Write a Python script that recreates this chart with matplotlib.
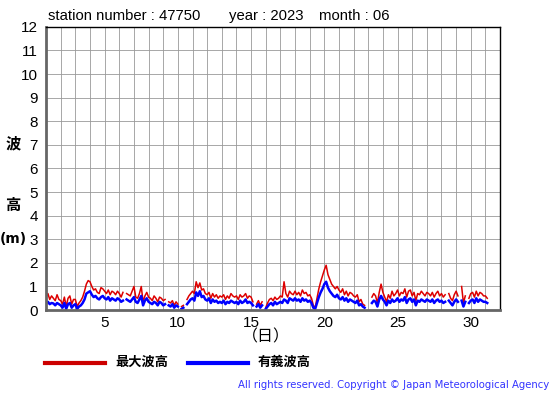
import numpy as np
import matplotlib
matplotlib.use('Agg')
import matplotlib.pyplot as plt

plt.rcParams['font.family'] = ['Liberation Sans', 'Noto Sans CJK JP', 'DejaVu Sans']

# Wave heights, 8 values per day (every 3 hours), starting day 1 00h
nan = np.nan
sig_wave = [
    0.30, 0.35, 0.25, 0.30, 0.28, 0.20, 0.30, 0.25,
    0.20, 0.10, 0.30, 0.05, 0.25, 0.30, 0.10, 0.20,
    0.25, 0.05, 0.15, 0.20, 0.30, 0.45, 0.70, 0.75,
    0.80, 0.65, 0.55, 0.60, 0.50, 0.45, 0.55, 0.60,
    0.50, 0.45, 0.55, 0.40, 0.50, 0.45, 0.40, 0.50,
    0.45, 0.35, 0.40, nan, 0.45, 0.40, 0.35, 0.45,
    0.55, 0.35, 0.30, 0.45, 0.60, 0.20, 0.40, 0.50,
    0.35, 0.30, 0.25, 0.35, 0.30, 0.20, 0.35, 0.30,
    0.20, 0.25, nan, 0.20, 0.15, 0.25, 0.10, 0.20,
    0.15, nan, 0.05, 0.10, nan, 0.25, 0.35, 0.45,
    0.50, 0.40, 0.75, 0.60, 0.80, 0.55, 0.60, 0.45,
    0.40, 0.50, 0.30, 0.45, 0.35, 0.40, 0.30, 0.35,
    0.30, 0.40, 0.25, 0.35, 0.30, 0.40, 0.35, 0.30,
    0.35, 0.25, 0.40, 0.30, 0.35, 0.45, 0.30, 0.35,
    0.30, 0.20, nan, 0.15, 0.25, 0.10, 0.20, nan,
    0.05, 0.15, 0.25, 0.30, 0.20, 0.35, 0.25, 0.30,
    0.35, 0.30, 0.45, 0.40, 0.30, 0.50, 0.45, 0.40,
    0.50, 0.40, 0.45, 0.35, 0.50, 0.40, 0.45, 0.35,
    0.40, 0.30, 0.10, 0.05, 0.30, 0.55, 0.75, 0.90,
    1.10, 1.20, 0.95, 0.80, 0.70, 0.60, 0.55, 0.65,
    0.50, 0.45, 0.55, 0.40, 0.50, 0.35, 0.45, 0.40,
    0.35, 0.30, 0.40, 0.20, 0.25, 0.15, 0.10, nan,
    0.20, nan, 0.30, 0.40, 0.35, 0.15, 0.45, 0.60,
    0.45, 0.35, 0.20, 0.40, 0.30, 0.45, 0.35, 0.40,
    0.50, 0.35, 0.45, 0.40, 0.55, 0.30, 0.45, 0.50,
    0.35, 0.45, 0.20, 0.40, 0.35, 0.45, 0.40, 0.35,
    0.45, 0.40, 0.35, 0.45, 0.30, 0.40, 0.45, 0.35,
    0.40, 0.30, 0.35, nan, 0.40, 0.30, 0.20, 0.35,
    0.45, 0.35, nan, 0.40, 0.15, 0.35, nan, 0.30,
    0.40, 0.45, 0.30, 0.50, 0.35, 0.45, 0.40, 0.35,
    0.35, 0.30,
]
max_wave = [
    0.55, 0.70, 0.45, 0.60, 0.50, 0.40, 0.65, 0.45,
    0.40, 0.25, 0.55, 0.15, 0.50, 0.60, 0.25, 0.45,
    0.45, 0.15, 0.30, 0.40, 0.55, 0.80, 1.10, 1.25,
    1.20, 1.00, 0.85, 0.90, 0.75, 0.70, 0.95, 0.90,
    0.80, 0.70, 0.85, 0.65, 0.80, 0.75, 0.65, 0.80,
    0.70, 0.55, 0.75, nan, 0.70, 0.65, 0.60, 0.80,
    1.00, 0.55, 0.50, 0.70, 1.00, 0.35, 0.60, 0.75,
    0.55, 0.50, 0.40, 0.60, 0.50, 0.35, 0.55, 0.50,
    0.40, 0.45, nan, 0.35, 0.30, 0.40, 0.20, 0.35,
    0.25, nan, 0.15, 0.20, nan, 0.45, 0.60, 0.70,
    0.80, 0.70, 1.20, 0.95, 1.15, 0.85, 0.90, 0.70,
    0.65, 0.75, 0.50, 0.70, 0.55, 0.65, 0.50, 0.60,
    0.55, 0.65, 0.45, 0.60, 0.50, 0.70, 0.60, 0.55,
    0.60, 0.45, 0.65, 0.55, 0.60, 0.70, 0.50, 0.60,
    0.55, 0.35, nan, 0.25, 0.40, 0.20, 0.35, nan,
    0.10, 0.30, 0.45, 0.50, 0.40, 0.55, 0.45, 0.50,
    0.60, 0.55, 1.20, 0.70, 0.55, 0.80, 0.70, 0.65,
    0.80, 0.65, 0.75, 0.60, 0.85, 0.70, 0.75, 0.60,
    0.65, 0.50, 0.20, 0.10, 0.50, 0.90, 1.20, 1.45,
    1.70, 1.90, 1.50, 1.30, 1.10, 1.00, 0.90, 1.00,
    0.85, 0.75, 0.90, 0.65, 0.80, 0.60, 0.75, 0.70,
    0.60, 0.55, 0.65, 0.35, 0.45, 0.25, 0.20, nan,
    0.40, nan, 0.55, 0.70, 0.60, 0.30, 0.75, 1.10,
    0.75, 0.55, 0.35, 0.65, 0.50, 0.80, 0.60, 0.70,
    0.85, 0.60, 0.75, 0.70, 0.90, 0.55, 0.80, 0.85,
    0.60, 0.75, 0.40, 0.70, 0.65, 0.80, 0.70, 0.60,
    0.75, 0.70, 0.60, 0.75, 0.55, 0.70, 0.80, 0.60,
    0.70, 0.55, 0.65, nan, 0.70, 0.50, 0.40, 0.65,
    0.80, 0.60, nan, 1.00, 0.30, 0.60, nan, 0.50,
    0.70, 0.75, 0.55, 0.80, 0.60, 0.75, 0.70, 0.60,
    0.60, 0.50,
]
days = 1 + np.arange(len(sig_wave)) / 8.0

x_ticks = [5, 10, 15, 20, 25, 30]
y_ticks = list(range(0, 13))

fig = plt.figure(figsize=(5.55, 3.95), dpi=100)
ax = fig.add_axes([0.083, 0.215, 0.818, 0.717])

ax.plot(days, max_wave, color='#dd0000', lw=1.1)
ax.plot(days, sig_wave, color='#0000ff', lw=1.8)

ax.set_xlim(1, 32)
ax.set_ylim(0, 12)
ax.set_xticks(np.arange(1, 33), minor=True)
ax.set_xticks(x_ticks)
ax.set_yticks(y_ticks)
ax.grid(True, which='both', color='#999999', lw=0.6)
ax.set_axisbelow(True)
ax.tick_params(which='both', length=0, labelsize=11)
ax.tick_params(axis='x', pad=4)
ax.tick_params(axis='y', pad=6)

for side in ['top', 'right']:
    ax.spines[side].set_color('black')
    ax.spines[side].set_linewidth(1.0)
for side in ['left', 'bottom']:
    ax.spines[side].set_color('#666666')
    ax.spines[side].set_linewidth(2.0)

fig.text(48 / 555, 1 - 16 / 395, 'station number : 47750', fontsize=10.7, va='center')
fig.text(229 / 555, 1 - 16 / 395, 'year : 2023', fontsize=10.7, va='center')
fig.text(319 / 555, 1 - 16 / 395, 'month : 06', fontsize=10.7, va='center')

# vertical y label
fig.text(13 / 555, 1 - 144 / 395, '波', fontsize=11, ha='center', va='center', fontweight='bold')
fig.text(13 / 555, 1 - 206 / 395, '高', fontsize=11, ha='center', va='center', fontweight='bold')
fig.text(13 / 555, 1 - 239 / 395, '(m)', fontsize=10, ha='center', va='center',
         fontweight='bold', family='DejaVu Sans')

fig.text(266 / 555, 1 - 337 / 395, '（日）', fontsize=11.5, ha='center', va='center')

# legend
fig.add_artist(plt.Line2D([45 / 555, 105 / 555], [1 - 363 / 395] * 2, color='#cc0000', lw=3))
fig.text(115 / 555, 1 - 363 / 395, '最大波高', fontsize=9.5, va='center', fontweight='bold')
fig.add_artist(plt.Line2D([188 / 555, 248 / 555], [1 - 363 / 395] * 2, color='#0000ff', lw=3))
fig.text(258 / 555, 1 - 363 / 395, '有義波高', fontsize=9.5, va='center', fontweight='bold')

fig.text(549 / 555, 1 - 385 / 395, 'All rights reserved. Copyright © Japan Meteorological Agency',
         fontsize=7.3, color='#3333ff', ha='right', va='center', family='DejaVu Sans')

fig.savefig('out.png', dpi=100)
